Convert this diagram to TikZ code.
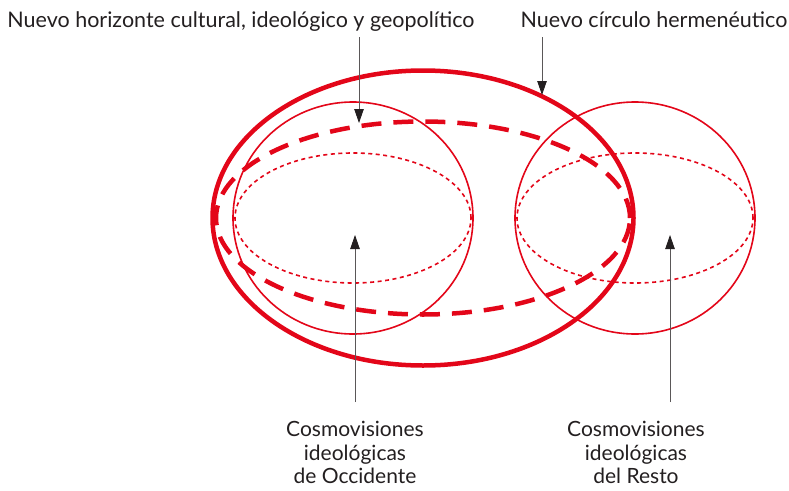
\documentclass[tikz,border=0pt]{standalone}
\usepackage{fontspec}
\setmainfont{Lato}
\usetikzlibrary{shapes.geometric, arrows.meta, positioning}
\definecolor{rojo}{RGB}{227,6,25}
\definecolor{tinta}{RGB}{35,31,32}

\begin{document}
\begin{tikzpicture}[
    x=1pt, y=-1pt,
    font=\fontsize{21.5}{23}\selectfont,
    orbe/.style={ellipse, draw=rojo, inner sep=0pt, outer sep=0pt},
    borde/.style={orbe, line width=4.5pt, minimum width=421pt, minimum height=295pt},
    esfera/.style={orbe, line width=1.6pt, minimum width=240pt, minimum height=232pt},
    punteado/.style={orbe, line width=1.6pt, dash pattern=on 4pt off 3.5pt, minimum width=236pt, minimum height=130pt},
    rayado/.style={orbe, line width=4.5pt, dash pattern=on 20pt off 12pt, minimum width=414pt, minimum height=193pt},
    rotulo/.style={align=center, text=tinta, inner sep=0pt},
    flechita/.style={-{Triangle[length=14pt, width=9.5pt, color=tinta]}, draw=tinta!75, line width=0.8pt},
]
\useasboundingbox (0,0) rectangle (789,490);

% elipses
\node[borde] (horizonte) at (423,218) {};
\node[rayado] (circulo) at (423,218) {};
\node[esfera] (occidente) at (353,218) {};
\node[punteado] (occPunt) at (353,218) {};
\node[esfera] (resto) at (635,218) {};
\node[punteado] (restoPunt) at (635,218) {};

% textos
\node[rotulo, anchor=base] (txtHorizonte) at (241,27) {Nuevo horizonte cultural, ideológico y geopolítico};
\node[rotulo, anchor=base] (txtCirculo) at (654,27) {Nuevo círculo hermenéutico};
\node[rotulo, anchor=north, font=\fontsize{21}{23.5}\selectfont] (txtOcc) at (355,421) {Cosmovisiones\\ideológicas\\de Occidente};
\node[rotulo, anchor=north, font=\fontsize{21}{23.5}\selectfont] (txtResto) at (636,421) {Cosmovisiones\\ideológicas\\del Resto};

% puntas
\coordinate (pHorizonte) at (359,123);
\coordinate (pCirculo) at (542,95);
\coordinate (pOcc) at (355,235);
\coordinate (pResto) at (670,235);

\draw[flechita] (pHorizonte |- 0,37) -- (pHorizonte);
\draw[flechita] (pCirculo |- 0,37) -- (pCirculo);
\draw[flechita] (pOcc |- 0,402) -- (pOcc);
\draw[flechita] (pResto |- 0,402) -- (pResto);

\end{tikzpicture}
\end{document}
